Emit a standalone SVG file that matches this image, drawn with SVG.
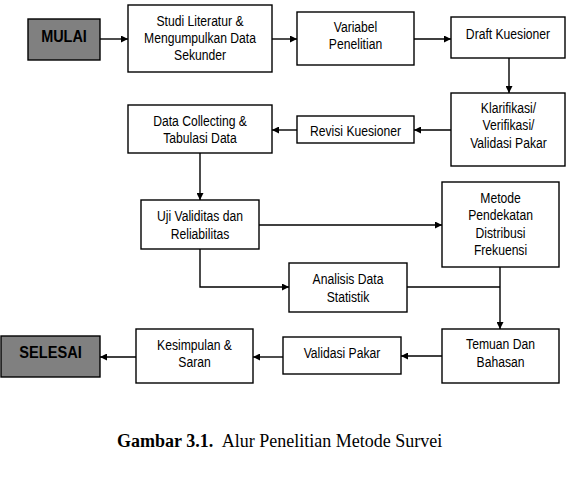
<svg xmlns="http://www.w3.org/2000/svg" width="567" height="504" viewBox="0 0 567 504">
<style>
.box{fill:#fff;stroke:#000;stroke-width:1.4}
.term{fill:#808080;stroke:#000;stroke-width:1.4}
.t{font-family:"Liberation Sans",Arial,sans-serif;font-size:15px;text-anchor:middle;fill:#000}
.tb{font-family:"Liberation Sans",Arial,sans-serif;font-size:17px;font-weight:bold;text-anchor:middle;fill:#000}
.cap{font-family:"Liberation Serif","Times New Roman",serif;font-size:18px;fill:#000}
.c{fill:none;stroke:#000;stroke-width:1.4}
</style>
<defs>
<marker id="ah" viewBox="0 0 10 10" refX="10" refY="5" markerWidth="9" markerHeight="7" markerUnits="userSpaceOnUse" orient="auto">
<path d="M0,0 L10,5 L0,10 z" fill="#000"/>
</marker>
</defs>
<g id="connectors">
<line class="c" x1="100" y1="39" x2="128" y2="39" marker-end="url(#ah)"/>
<line class="c" x1="272" y1="39" x2="297" y2="39" marker-end="url(#ah)"/>
<line class="c" x1="414" y1="39" x2="451" y2="39" marker-end="url(#ah)"/>
<line class="c" x1="509" y1="58" x2="509" y2="93" marker-end="url(#ah)"/>
<line class="c" x1="451" y1="130" x2="414" y2="130" marker-end="url(#ah)"/>
<line class="c" x1="297" y1="130" x2="272" y2="130" marker-end="url(#ah)"/>
<line class="c" x1="200" y1="153" x2="200" y2="200" marker-end="url(#ah)"/>
<line class="c" x1="259" y1="225" x2="442" y2="225" marker-end="url(#ah)"/>
<polyline class="c" points="200,249 200,287 289,287" marker-end="url(#ah)"/>
<line class="c" x1="407" y1="287" x2="500" y2="287"/>
<line class="c" x1="500" y1="267" x2="500" y2="329" marker-end="url(#ah)"/>
<line class="c" x1="442" y1="356" x2="401" y2="356" marker-end="url(#ah)"/>
<line class="c" x1="283" y1="357" x2="253" y2="357" marker-end="url(#ah)"/>
<line class="c" x1="136" y1="357" x2="100" y2="357" marker-end="url(#ah)"/>
</g>
<g id="mulai">
<rect class="term" x="28" y="19" width="72" height="41"/>
<text class="tb" transform="translate(64,0) scale(.85,1)"><tspan x="0" y="42">MULAI</tspan></text>
</g>
<g id="studi">
<rect class="box" x="128" y="5" width="144" height="67"/>
<text class="t" transform="translate(200,0) scale(.81,1)"><tspan x="0" y="26">Studi Literatur &amp;</tspan><tspan x="0" y="43">Mengumpulkan Data</tspan><tspan x="0" y="60">Sekunder</tspan></text>
</g>
<g id="variabel">
<rect class="box" x="297" y="12" width="117" height="53"/>
<text class="t" transform="translate(355.5,0) scale(.81,1)"><tspan x="0" y="32">Variabel</tspan><tspan x="0" y="49.5">Penelitian</tspan></text>
</g>
<g id="draft">
<rect class="box" x="451" y="17" width="114" height="41"/>
<text class="t" transform="translate(508,0) scale(.81,1)"><tspan x="0" y="39">Draft Kuesioner</tspan></text>
</g>
<g id="klarifikasi">
<rect class="box" x="451" y="93" width="114" height="73"/>
<text class="t" transform="translate(508.5,0) scale(.81,1)"><tspan x="0" y="113.5">Klarifikasi/</tspan><tspan x="0" y="130.5">Verifikasi/</tspan><tspan x="0" y="148">Validasi Pakar</tspan></text>
</g>
<g id="revisi">
<rect class="box" x="297" y="116" width="117" height="27"/>
<text class="t" transform="translate(355.5,0) scale(.81,1)"><tspan x="0" y="136">Revisi Kuesioner</tspan></text>
</g>
<g id="datacollecting">
<rect class="box" x="128" y="105" width="144" height="48"/>
<text class="t" transform="translate(200,0) scale(.81,1)"><tspan x="0" y="126">Data Collecting &amp;</tspan><tspan x="0" y="143">Tabulasi Data</tspan></text>
</g>
<g id="uji">
<rect class="box" x="141" y="200" width="118" height="49"/>
<text class="t" transform="translate(200,0) scale(.81,1)"><tspan x="0" y="221.5">Uji Validitas dan</tspan><tspan x="0" y="238.8">Reliabilitas</tspan></text>
</g>
<g id="metode">
<rect class="box" x="442" y="182" width="117" height="85"/>
<text class="t" transform="translate(500.5,0) scale(.81,1)"><tspan x="0" y="203">Metode</tspan><tspan x="0" y="220.5">Pendekatan</tspan><tspan x="0" y="237.7">Distribusi</tspan><tspan x="0" y="254.7">Frekuensi</tspan></text>
</g>
<g id="analisis">
<rect class="box" x="289" y="263" width="118" height="49"/>
<text class="t" transform="translate(348,0) scale(.81,1)"><tspan x="0" y="284.5">Analisis Data</tspan><tspan x="0" y="302">Statistik</tspan></text>
</g>
<g id="temuan">
<rect class="box" x="442" y="329" width="117" height="54"/>
<text class="t" transform="translate(500.5,0) scale(.81,1)"><tspan x="0" y="349">Temuan Dan</tspan><tspan x="0" y="367">Bahasan</tspan></text>
</g>
<g id="validasi">
<rect class="box" x="283" y="337" width="118" height="37"/>
<text class="t" transform="translate(342,0) scale(.81,1)"><tspan x="0" y="358">Validasi Pakar</tspan></text>
</g>
<g id="kesimpulan">
<rect class="box" x="136" y="329" width="117" height="54"/>
<text class="t" transform="translate(194.5,0) scale(.81,1)"><tspan x="0" y="350.5">Kesimpulan &amp;</tspan><tspan x="0" y="367">Saran</tspan></text>
</g>
<g id="selesai">
<rect class="term" x="1" y="336" width="99" height="41"/>
<text class="tb" transform="translate(50.5,0) scale(.86,1)"><tspan x="0" y="358.5">SELESAI</tspan></text>
</g>
<g id="caption">
<text class="cap" x="117" y="447"><tspan font-weight="bold">Gambar 3.1.</tspan><tspan x="221.7">Alur Penelitian Metode Survei</tspan></text>
</g>
</svg>
